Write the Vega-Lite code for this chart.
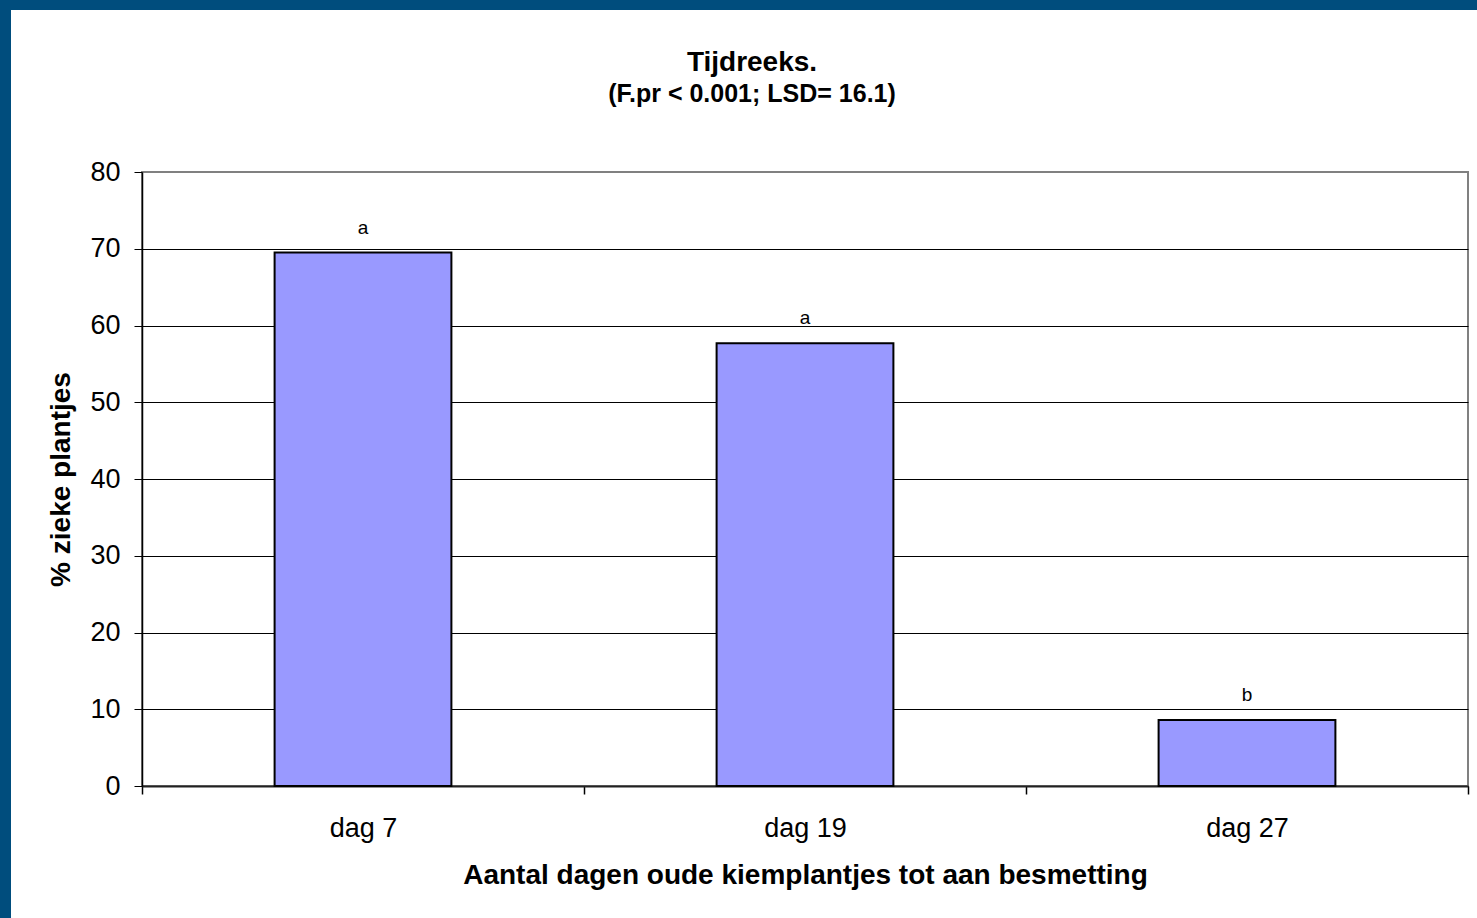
{
  "$schema": "https://vega.github.io/schema/vega-lite/v6.json",
  "padding": 0,
  "autosize": {"type": "pad"},
  "background": "white",
  "config": {
    "font": "Liberation Sans",
    "view": {"stroke": null},
    "concat": {"spacing": 0}
  },
  "bounds": "flush",
  "spacing": 0,
  "hconcat": [
    {
      "width": 11, "height": 918,
      "data": {"values": []},
      "mark": "rect",
      "encoding": {},
      "view": {"fill": "#004D7D", "stroke": null}
    },
    {
      "bounds": "flush",
      "spacing": 162,
      "vconcat": [
        {
          "width": 1466, "height": 10,
          "data": {"values": []},
          "mark": "rect",
          "encoding": {},
          "view": {"fill": "#004D7D", "stroke": null}
        },
        {
          "bounds": "flush",
          "spacing": 130,
          "hconcat": [
            {
              "width": 1, "height": 614,
              "data": {"values": []},
              "mark": "rect",
              "encoding": {},
              "view": {"stroke": null}
            },
            {
              "width": 1326, "height": 614,
              "title": {
                "text": "Tijdreeks.",
                "subtitle": "(F.pr < 0.001; LSD= 16.1)",
                "fontSize": 28,
                "subtitleFontSize": 25,
                "fontWeight": "bold",
                "subtitleFontWeight": "bold",
                "color": "black",
                "subtitleColor": "black",
                "anchor": "middle",
                "dx": -53,
                "offset": 51,
                "subtitlePadding": 5
              },
              "view": {"stroke": "#808080", "strokeWidth": 2, "fill": "white"},
              "data": {"values": [
                {"dag": "dag 7", "pct": 69.5, "groep": "a"},
                {"dag": "dag 19", "pct": 57.7, "groep": "a"},
                {"dag": "dag 27", "pct": 8.6, "groep": "b"}
              ]},
              "encoding": {
                "x": {
                  "field": "dag", "type": "nominal", "sort": null,
                  "scale": {"paddingInner": 0, "paddingOuter": 0},
                  "axis": {
                    "title": "Aantal dagen oude kiemplantjes tot aan besmetting",
                    "labelAngle": 0,
                    "tickBand": "extent",
                    "tickSize": 8,
                    "tickColor": "black",
                    "tickWidth": 1.5,
                    "domainColor": "#222222",
                    "domainWidth": 2,
                    "labelFontSize": 27,
                    "labelColor": "black",
                    "labelPadding": 21,
                    "titleFontSize": 28,
                    "titleFontWeight": "bold",
                    "titleColor": "black",
                    "titlePadding": 20,
                    "grid": false
                  }
                }
              },
              "layer": [
                {
                  "mark": {"type": "bar", "width": {"band": 0.4}, "fill": "#9999FF", "stroke": "black", "strokeWidth": 2},
                  "encoding": {
                    "y": {
                      "field": "pct", "type": "quantitative",
                      "scale": {"domain": [0, 80], "nice": false},
                      "axis": {
                        "title": "% zieke plantjes",
                        "values": [0, 10, 20, 30, 40, 50, 60, 70, 80],
                        "grid": true,
                        "gridColor": {"condition": {"test": "datum.value === 80", "value": "#808080"}, "value": "black"},
                        "gridWidth": 1,
                        "gridOpacity": 1,
                        "tickSize": 8,
                        "tickColor": "black",
                        "domainColor": "black",
                        "domainWidth": 1.5,
                        "labelFontSize": 27,
                        "labelColor": "black",
                        "labelPadding": 14,
                        "titleFontSize": 28,
                        "titleFontWeight": "bold",
                        "titleColor": "black",
                        "titlePadding": 14
                      }
                    }
                  }
                },
                {
                  "mark": {"type": "text", "dy": -19, "baseline": "alphabetic", "fontSize": 19, "color": "black"},
                  "encoding": {
                    "y": {"field": "pct", "type": "quantitative"},
                    "text": {"field": "groep"}
                  }
                }
              ]
            }
          ]
        }
      ]
    }
  ]
}
